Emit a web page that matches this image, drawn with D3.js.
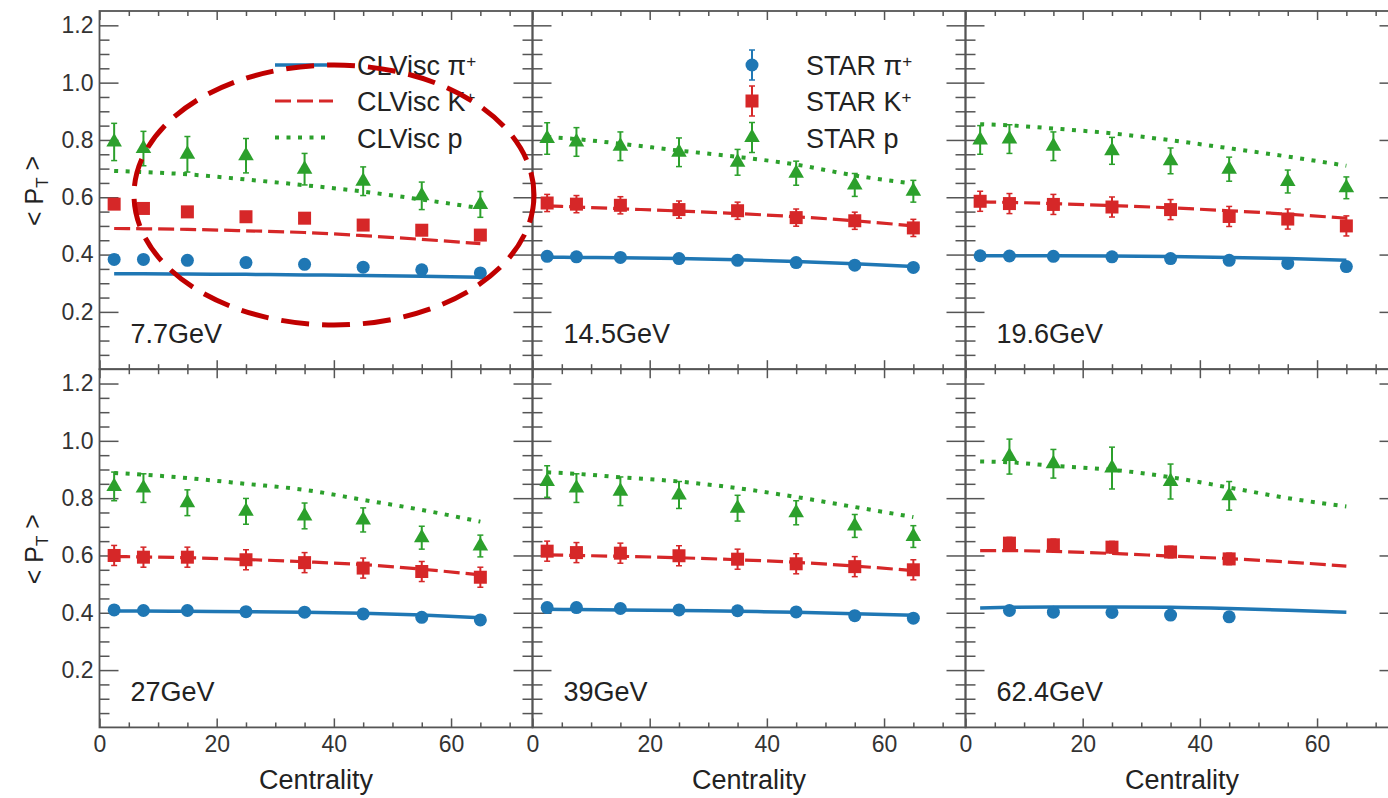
<!DOCTYPE html>
<html><head><meta charset="utf-8">
<script src="https://cdn.jsdelivr.net/npm/d3@7"></script>
<style>
html,body{margin:0;padding:0;background:#fff;overflow:hidden}
svg{display:block}
text{font-family:"Liberation Sans",Arial,Helvetica,sans-serif;}
</style></head><body><svg id="chart" width="1388" height="798"></svg>
<script>
// ---------------- data ----------------
const energies = ["7.7GeV", "14.5GeV", "19.6GeV", "27GeV", "39GeV", "62.4GeV"];
const centrality = [2.5, 7.5, 15, 25, 35, 45, 55, 65];
const centrality62 = [7.5, 15, 25, 35, 45];
const xTicksMajor = [0, 20, 40, 60];
const yTicksMajor = [0.2, 0.4, 0.6, 0.8, 1.0, 1.2];

// STAR data (per energy)
const starPi = [
  [0.383, 0.383, 0.380, 0.372, 0.366, 0.356, 0.347, 0.336],
  [0.394, 0.392, 0.390, 0.386, 0.380, 0.372, 0.363, 0.355],
  [0.396, 0.395, 0.394, 0.392, 0.386, 0.380, 0.369, 0.358],
  [0.410, 0.408, 0.408, 0.404, 0.402, 0.396, 0.384, 0.375],
  [0.418, 0.418, 0.415, 0.410, 0.407, 0.403, 0.390, 0.381],
  [0.408, 0.402, 0.401, 0.392, 0.386]
];
const starK = [
  [0.576, 0.561, 0.549, 0.532, 0.527, 0.503, 0.485, 0.468],
  [0.580, 0.576, 0.572, 0.557, 0.553, 0.529, 0.518, 0.493],
  [0.586, 0.578, 0.575, 0.566, 0.557, 0.533, 0.524, 0.500],
  [0.600, 0.594, 0.594, 0.585, 0.575, 0.556, 0.544, 0.524],
  [0.615, 0.610, 0.608, 0.599, 0.587, 0.571, 0.561, 0.550],
  [0.643, 0.637, 0.629, 0.612, 0.588]
];
const starP = [
  [0.793, 0.770, 0.750, 0.745, 0.698, 0.656, 0.605, 0.575],
  [0.805, 0.793, 0.778, 0.757, 0.722, 0.684, 0.643, 0.621],
  [0.800, 0.803, 0.778, 0.762, 0.727, 0.698, 0.655, 0.633],
  [0.841, 0.835, 0.784, 0.754, 0.738, 0.724, 0.662, 0.633],
  [0.858, 0.835, 0.824, 0.811, 0.765, 0.749, 0.703, 0.666],
  [0.945, 0.920, 0.905, 0.858, 0.808]
];
const piErr = [0.010, 0.012, 0.015, 0.015, 0.015, 0.010];
const kErr = [0.015, 0.030, 0.035, 0.035, 0.035, 0.020];
const pErr = [
  [0.065, 0.060, 0.062, 0.060, 0.055, 0.050, 0.048, 0.045],
  [0.055, 0.050, 0.050, 0.050, 0.045, 0.042, 0.040, 0.038],
  [0.050, 0.050, 0.050, 0.047, 0.045, 0.042, 0.040, 0.038],
  [0.050, 0.050, 0.045, 0.045, 0.045, 0.042, 0.040, 0.038],
  [0.055, 0.050, 0.050, 0.047, 0.045, 0.042, 0.040, 0.038],
  [0.061, 0.050, 0.073, 0.061, 0.050]
];

// CLVisc model (per energy, at centrality bins)
const clvPi = [
  [0.333, 0.333, 0.332, 0.331, 0.329, 0.327, 0.324, 0.321],
  [0.391, 0.390, 0.389, 0.386, 0.382, 0.376, 0.368, 0.358],
  [0.396, 0.396, 0.396, 0.395, 0.393, 0.390, 0.386, 0.380],
  [0.406, 0.406, 0.405, 0.404, 0.402, 0.398, 0.392, 0.383],
  [0.412, 0.411, 0.410, 0.408, 0.405, 0.402, 0.397, 0.391],
  [0.417, 0.419, 0.420, 0.420, 0.419, 0.415, 0.409, 0.402]
];
const clvK = [
  [0.491, 0.490, 0.488, 0.483, 0.477, 0.466, 0.453, 0.438],
  [0.570, 0.566, 0.560, 0.552, 0.543, 0.532, 0.518, 0.500],
  [0.584, 0.582, 0.578, 0.571, 0.563, 0.553, 0.541, 0.527],
  [0.596, 0.595, 0.592, 0.586, 0.578, 0.568, 0.552, 0.532],
  [0.602, 0.600, 0.597, 0.592, 0.585, 0.576, 0.563, 0.547],
  [0.617, 0.617, 0.614, 0.607, 0.598, 0.589, 0.577, 0.563]
];
const clvP = [
  [0.692, 0.688, 0.680, 0.662, 0.642, 0.620, 0.592, 0.562],
  [0.810, 0.803, 0.787, 0.763, 0.741, 0.714, 0.676, 0.648],
  [0.855, 0.851, 0.840, 0.823, 0.799, 0.771, 0.742, 0.710],
  [0.888, 0.882, 0.870, 0.850, 0.829, 0.794, 0.759, 0.718],
  [0.890, 0.885, 0.873, 0.858, 0.835, 0.804, 0.769, 0.734],
  [0.928, 0.925, 0.913, 0.899, 0.873, 0.837, 0.800, 0.771]
];

// ---------------- layout ----------------
const BLUE = "#1f77b4", RED = "#d62728", GREEN = "#2ca02c";
const FRAME = "#555";
const L = 99.5, T = 11, PW = 433, PH = 358.2;
const svg = d3.select("#chart");

const x = d3.scaleLinear().domain([0, 73.9]).range([0, PW]);
const y = d3.scaleLinear().domain([0, 1.25]).range([PH, 0]);

const yMinor = d3.range(1, 25).filter(i => i % 4 !== 0).map(i => +(i * 0.05).toFixed(2));
const xMinor = d3.range(1, 15).map(i => i * 5).filter(v => v % 20 !== 0);

function styleAxis(g, fontSize) {
  g.select(".domain").remove();
  g.selectAll(".tick line").attr("stroke", FRAME).attr("stroke-width", 1.5);
  g.selectAll(".tick text").attr("fill", "#333").style("font-size", fontSize + "px")
    .style("font-family", '"Liberation Sans", Arial, sans-serif');
}

const line = d3.line().x(d => x(d[0])).y(d => y(d[1])).curve(d3.curveMonotoneX);
const tri = d3.symbol().type(d3.symbolTriangle).size(105);

energies.forEach((name, k) => {
  const col = k % 3, row = Math.floor(k / 3);
  const g = svg.append("g").attr("transform", `translate(${L + col * PW},${T + row * PH})`);

  // ticks (inward on all sides)
  const yl = g.append("g").call(d3.axisLeft(y).tickValues(yTicksMajor).tickSize(-19).tickPadding(6)
    .tickFormat(col === 0 ? d3.format(".1f") : ""));
  styleAxis(yl, 23);
  styleAxis(g.append("g").call(d3.axisLeft(y).tickValues(yMinor).tickSize(-10).tickFormat("")), 23);
  styleAxis(g.append("g").attr("transform", `translate(${PW},0)`)
    .call(d3.axisRight(y).tickValues(yTicksMajor).tickSize(-19).tickFormat("")), 23);
  styleAxis(g.append("g").attr("transform", `translate(${PW},0)`)
    .call(d3.axisRight(y).tickValues(yMinor).tickSize(-10).tickFormat("")), 23);
  const xb = g.append("g").attr("transform", `translate(0,${PH})`)
    .call(d3.axisBottom(x).tickValues(xTicksMajor).tickSize(-9).tickPadding(8)
      .tickFormat(row === 1 ? d3.format("d") : ""));
  styleAxis(xb, 23);
  styleAxis(g.append("g").attr("transform", `translate(0,${PH})`)
    .call(d3.axisBottom(x).tickValues(xMinor).tickSize(-5).tickFormat("")), 23);
  styleAxis(g.append("g").call(d3.axisTop(x).tickValues(xTicksMajor).tickSize(-9).tickFormat("")), 23);
  styleAxis(g.append("g").call(d3.axisTop(x).tickValues(xMinor).tickSize(-5).tickFormat("")), 23);

  // frame
  g.append("rect").attr("x", 0).attr("y", 0).attr("width", PW).attr("height", PH)
    .attr("fill", "none").attr("stroke", FRAME).attr("stroke-width", 1.8);

  // model curves
  const mk = (arr) => centrality.map((c, i) => [c, arr[k][i]]);
  g.append("path").attr("d", line(mk(clvPi))).attr("fill", "none").attr("stroke", BLUE).attr("stroke-width", 3.5);
  g.append("path").attr("d", line(mk(clvK))).attr("fill", "none").attr("stroke", RED).attr("stroke-width", 3.2)
    .attr("stroke-dasharray", "16,6");
  g.append("path").attr("d", line(mk(clvP))).attr("fill", "none").attr("stroke", GREEN).attr("stroke-width", 4)
    .attr("stroke-dasharray", "4,7.5");

  // data
  const cx = k === 5 ? centrality62 : centrality;
  function errBars(vals, errs, color) {
    cx.forEach((c, i) => {
      const e = Array.isArray(errs) ? errs[i] : errs;
      const xx = x(c), y1 = y(vals[i] - e), y2 = y(vals[i] + e);
      g.append("line").attr("x1", xx).attr("x2", xx).attr("y1", y1).attr("y2", y2)
        .attr("stroke", color).attr("stroke-width", 2);
      [y1, y2].forEach(yy => g.append("line").attr("x1", xx - 3).attr("x2", xx + 3).attr("y1", yy).attr("y2", yy)
        .attr("stroke", color).attr("stroke-width", 1.5));
    });
  }
  errBars(starPi[k], piErr[k], BLUE);
  errBars(starK[k], kErr[k], RED);
  errBars(starP[k], pErr[k], GREEN);
  cx.forEach((c, i) => {
    g.append("circle").attr("cx", x(c)).attr("cy", y(starPi[k][i])).attr("r", 6.5).attr("fill", BLUE);
    g.append("rect").attr("x", x(c) - 6.5).attr("y", y(starK[k][i]) - 6.5).attr("width", 13).attr("height", 13).attr("fill", RED);
    g.append("path").attr("d", tri).attr("transform", `translate(${x(c)},${y(starP[k][i])})`).attr("fill", GREEN);
  });

  // energy label
  g.append("text").attr("x", 31).attr("y", PH - 26.5).attr("fill", "#222").style("font-size", "27px").text(name);

  // axis titles
  if (col === 0) {
    const t = svg.append("text").attr("transform", `translate(43,${T + row * PH + 180}) rotate(-90)`)
      .attr("text-anchor", "middle").attr("fill", "#222").style("font-size", "25px");
    t.append("tspan").text("< P");
    t.append("tspan").attr("dy", "0.3em").style("font-size", "17px").text("T");
    t.append("tspan").attr("dy", "-0.3em").text(" >");
  }
  if (row === 1) {
    svg.append("text").attr("x", L + col * PW + PW / 2).attr("y", 789).attr("text-anchor", "middle")
      .attr("fill", "#222").style("font-size", "27px").text("Centrality");
  }
});

// ---------------- legends ----------------
const rows = [65, 101, 137.5];
function supText(sel, base, sup) {
  const t = sel.append("text").attr("fill", "#222").style("font-size", "27px");
  t.append("tspan").text(base);
  if (sup) t.append("tspan").attr("dy", "-0.5em").style("font-size", "17px").text(sup);
  return t;
}
// CLVisc legend
const lg1 = svg.append("g");
[[BLUE, null, 3.5], [RED, "16,6", 3.2], [GREEN, "4,7.5", 4]].forEach((s, i) => {
  lg1.append("line").attr("x1", 275).attr("x2", i === 2 ? 328 : 333).attr("y1", rows[i]).attr("y2", rows[i])
    .attr("stroke", s[0]).attr("stroke-width", s[2]).attr("stroke-dasharray", s[1]);
});
supText(lg1, "CLVisc \u03c0", "+").attr("x", 357).attr("y", rows[0] + 10);
supText(lg1, "CLVisc K", "+").attr("x", 357).attr("y", rows[1] + 10);
supText(lg1, "CLVisc p", null).attr("x", 357).attr("y", rows[2] + 10);

// STAR legend
const lg2 = svg.append("g");
const mx = 752;
[BLUE, RED, GREEN].forEach((c, i) => {
  lg2.append("line").attr("x1", mx).attr("x2", mx).attr("y1", rows[i] - 15).attr("y2", rows[i] + 15)
    .attr("stroke", c).attr("stroke-width", 2);
  [rows[i] - 15, rows[i] + 15].forEach(yy => lg2.append("line").attr("x1", mx - 3).attr("x2", mx + 3)
    .attr("y1", yy).attr("y2", yy).attr("stroke", c).attr("stroke-width", 1.5));
});
lg2.append("circle").attr("cx", mx).attr("cy", rows[0]).attr("r", 6.5).attr("fill", BLUE);
lg2.append("rect").attr("x", mx - 6.5).attr("y", rows[1] - 6.5).attr("width", 13).attr("height", 13).attr("fill", RED);
lg2.append("path").attr("d", tri).attr("transform", `translate(${mx},${rows[2]})`).attr("fill", GREEN);
supText(lg2, "STAR \u03c0", "+").attr("x", 806).attr("y", rows[0] + 10);
supText(lg2, "STAR K", "+").attr("x", 806).attr("y", rows[1] + 10);
supText(lg2, "STAR p", null).attr("x", 806).attr("y", rows[2] + 10);

// annotation ellipse
svg.append("ellipse").attr("cx", 334).attr("cy", 195).attr("rx", 200).attr("ry", 130)
  .attr("fill", "none").attr("stroke", "#c00000").attr("stroke-width", 5).attr("stroke-dasharray", "28,13");
</script></body></html>
